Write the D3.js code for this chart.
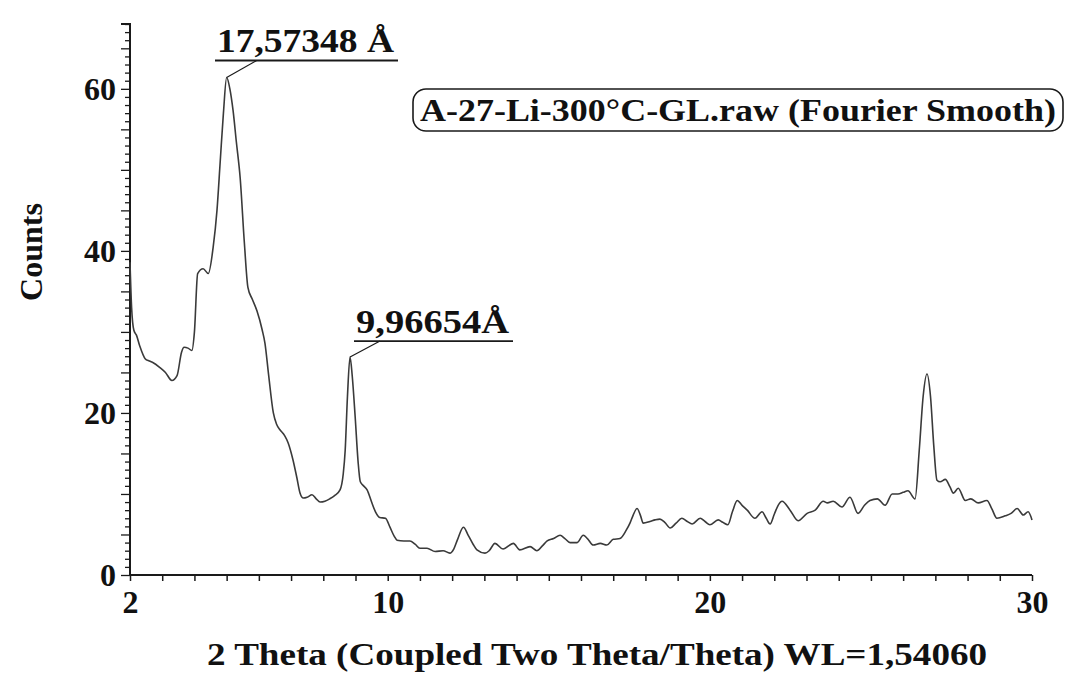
<!DOCTYPE html>
<html>
<head>
<meta charset="utf-8">
<script src="https://cdn.jsdelivr.net/npm/d3@7"></script>
<style>
  html, body { margin: 0; padding: 0; background: #ffffff; }
  svg { display: block; }
  text { font-family: "Liberation Serif", "DejaVu Serif", serif; font-weight: bold; fill: #111; }
</style>
</head>
<body>
<svg id="chart" width="1070" height="675"></svg>
<script>
// ---- data ----
const twoTheta = [
  2.00, 2.05, 2.12, 2.20, 2.30, 2.47, 2.60, 2.72, 2.93, 3.10, 3.30, 3.46, 3.60, 3.68, 3.80, 3.92,
  4.00, 4.10, 4.27, 4.43, 4.58, 4.70, 4.80, 4.90, 5.00, 5.10, 5.20, 5.30, 5.42, 5.55, 5.66, 5.80,
  5.94, 6.10, 6.19, 6.30, 6.45, 6.55, 6.66, 6.80, 6.91, 7.06, 7.18, 7.28, 7.38, 7.50, 7.65, 7.78,
  7.90, 8.05, 8.20, 8.35, 8.52, 8.62, 8.68, 8.75, 8.83, 8.90, 8.99, 9.08, 9.15, 9.25, 9.36, 9.50,
  9.62, 9.75, 9.93, 10.07, 10.20, 10.29, 10.50, 10.69, 10.85, 11.00, 11.22, 11.47, 11.72, 11.93, 12.05, 12.16,
  12.35, 12.50, 12.65, 12.77, 13.02, 13.15, 13.33, 13.58, 13.90, 14.10, 14.42, 14.63, 14.80, 14.95, 15.15, 15.35,
  15.50, 15.66, 15.88, 16.07, 16.20, 16.38, 16.60, 16.80, 17.00, 17.21, 17.40, 17.52, 17.62, 17.74, 17.85, 17.93,
  18.14, 18.30, 18.45, 18.60, 18.77, 18.95, 19.13, 19.30, 19.45, 19.70, 19.85, 20.00, 20.26, 20.40, 20.56, 20.70,
  20.85, 21.00, 21.16, 21.40, 21.62, 21.75, 21.87, 22.00, 22.12, 22.24, 22.49, 22.74, 23.02, 23.27, 23.52, 23.65,
  23.83, 24.10, 24.35, 24.60, 24.80, 24.97, 25.20, 25.44, 25.66, 25.84, 26.00, 26.15, 26.37, 26.50, 26.62, 26.74,
  26.85, 26.95, 27.05, 27.15, 27.31, 27.45, 27.56, 27.71, 27.93, 28.10, 28.33, 28.60, 28.75, 28.91, 29.17, 29.35,
  29.54, 29.73, 29.88, 30.00
];
const counts = [
  38.6, 33.0, 30.2, 29.6, 28.3, 26.7, 26.4, 26.2, 25.6, 25.0, 24.0, 24.6, 27.5, 28.1, 28.0, 27.7,
  30.0, 37.2, 37.8, 37.2, 40.4, 45.0, 51.0, 57.0, 61.4, 60.0, 57.3, 53.5, 49.0, 41.0, 35.5, 34.0,
  32.6, 30.3, 28.6, 24.8, 20.0, 18.6, 17.9, 17.2, 16.3, 14.2, 12.0, 10.1, 9.5, 9.6, 9.9, 9.4,
  9.0, 9.1, 9.4, 9.8, 10.5, 12.5, 15.4, 22.0, 26.9, 24.5, 19.5, 14.0, 11.5, 11.0, 10.5, 9.0,
  7.8, 7.1, 7.0, 5.9, 4.8, 4.3, 4.2, 4.2, 3.8, 3.3, 3.3, 2.9, 3.0, 2.7, 3.2, 4.3,
  5.9, 4.9, 3.8, 3.1, 2.7, 3.0, 3.9, 3.2, 3.9, 3.1, 3.5, 3.0, 3.6, 4.2, 4.5, 4.9,
  4.5, 4.0, 4.0, 4.9, 4.5, 3.7, 3.9, 3.7, 4.4, 4.5, 5.5, 6.4, 7.4, 8.2, 7.3, 6.4,
  6.6, 6.8, 6.9, 6.5, 5.8, 6.4, 7.0, 6.6, 6.3, 7.0, 6.6, 6.2, 6.8, 6.5, 6.2, 7.8,
  9.2, 8.6, 8.0, 7.0, 7.8, 7.0, 6.3, 7.5, 8.6, 9.1, 8.0, 6.7, 7.6, 8.0, 9.1, 8.9,
  9.1, 8.4, 9.6, 7.6, 8.6, 9.2, 9.4, 8.6, 10.0, 10.0, 10.2, 10.4, 9.4, 15.4, 22.0, 24.8,
  22.0, 16.0, 11.7, 11.5, 11.8, 10.9, 10.1, 10.7, 9.2, 9.4, 8.9, 9.2, 8.2, 7.0, 7.3, 7.6,
  8.2, 7.4, 7.8, 6.8
];
const xTickLabels = [2, 10, 20, 30];
const yTickLabels = [0, 20, 40, 60];
const peakPositions = [5.00, 8.83];
const peakCounts = [61.4, 26.9];
const peakLabels = ["17,57348 Å", "9,96654Å"];
const legendText = "A-27-Li-300°C-GL.raw (Fourier Smooth)";
const xTitle = "2 Theta (Coupled Two Theta/Theta) WL=1,54060";
const yTitle = "Counts";

// ---- chart ----
const svg = d3.select("#chart");
const x = d3.scaleLinear().domain([2, 30]).range([130, 1032]);
const y = d3.scaleLinear().domain([0, 68]).range([575, 24]);
const ink = "#1a1a1a";

// x axis
const xAxis = d3.axisBottom(x)
  .tickValues(d3.range(2, 31, 1))
  .tickSize(6)
  .tickFormat(d => xTickLabels.includes(d) ? String(d) : "");
const gx = svg.append("g").attr("transform", `translate(0,${y(0)})`).call(xAxis);
gx.select(".domain").attr("stroke", ink).attr("stroke-width", 2).attr("d", `M${x(2)},0H${x(30)}`);
gx.selectAll(".tick line").attr("stroke", ink).attr("stroke-width", 1.5);
gx.selectAll(".tick text")
  .attr("y", 38).attr("dy", 0)
  .style("font-size", "32px").attr("fill", ink)
  .style("font-family", '"Liberation Serif", serif').style("font-weight", "bold");

// y axis
const yAxis = d3.axisLeft(y)
  .tickValues(d3.range(0, 69, 1))
  .tickSize(5)
  .tickFormat(d => yTickLabels.includes(d) ? String(d) : "");
const gy = svg.append("g").attr("transform", `translate(${x(2)},0)`).call(yAxis);
gy.select(".domain").attr("stroke", ink).attr("stroke-width", 2).attr("d", `M0,${y(0)}V${y(68)}H-9`);
gy.selectAll(".tick line")
  .attr("stroke", ink).attr("stroke-width", 1.3)
  .attr("x2", d => (d % 5 === 0 ? -9 : -5));
gy.selectAll(".tick text")
  .attr("x", -14).attr("dy", "0.34em")
  .style("font-size", "32px").attr("fill", ink)
  .style("font-family", '"Liberation Serif", serif').style("font-weight", "bold");

// the trace
const pts = twoTheta.map((t, i) => [t, counts[i]]);
const line = d3.line().x(d => x(d[0])).y(d => y(d[1])).curve(d3.curveMonotoneX);
svg.append("path")
  .datum(pts)
  .attr("d", line)
  .attr("fill", "none")
  .attr("stroke", "#3a3a3a")
  .attr("stroke-width", 1.6)
  .attr("stroke-linejoin", "round");

// peak annotations
const annX0 = [215, 354];        // underline left edges
const annW = [183, 159];         // underline widths
const annDy = [17, 16];          // underline height above the peak
peakPositions.forEach((p, i) => {
  const px = x(p), py = y(peakCounts[i]);
  const uy = py - annDy[i];
  const g = svg.append("g");
  g.append("line").attr("x1", annX0[i]).attr("x2", annX0[i] + annW[i])
    .attr("y1", uy).attr("y2", uy).attr("stroke", ink).attr("stroke-width", 1.8);
  g.append("line").attr("x1", px).attr("y1", py).attr("x2", px + 30).attr("y2", uy)
    .attr("stroke", ink).attr("stroke-width", 1.2);
  g.append("text").attr("x", annX0[i] + 2).attr("y", uy - 8)
    .style("font-size", "34px").attr("fill", ink)
    .attr("textLength", annW[i] - 6).attr("lengthAdjust", "spacingAndGlyphs")
    .text(peakLabels[i]);
});

// legend box
const lg = svg.append("g");
lg.append("rect").attr("x", 413).attr("y", 89).attr("width", 650).attr("height", 42)
  .attr("rx", 13).attr("ry", 13)
  .attr("fill", "#fff").attr("stroke", ink).attr("stroke-width", 1.6);
lg.append("text").attr("x", 738).attr("y", 121).attr("text-anchor", "middle")
  .style("font-size", "31px").attr("fill", ink)
  .attr("textLength", 636).attr("lengthAdjust", "spacingAndGlyphs")
  .text(legendText);

// axis titles
svg.append("text").attr("x", 597).attr("y", 665).attr("text-anchor", "middle")
  .style("font-size", "32px").attr("fill", ink)
  .attr("textLength", 780).attr("lengthAdjust", "spacingAndGlyphs")
  .text(xTitle);
svg.append("text").attr("transform", "translate(42,252) rotate(-90)")
  .attr("text-anchor", "middle")
  .style("font-size", "32px").attr("fill", ink)
  .text(yTitle);
</script>
</body>
</html>
